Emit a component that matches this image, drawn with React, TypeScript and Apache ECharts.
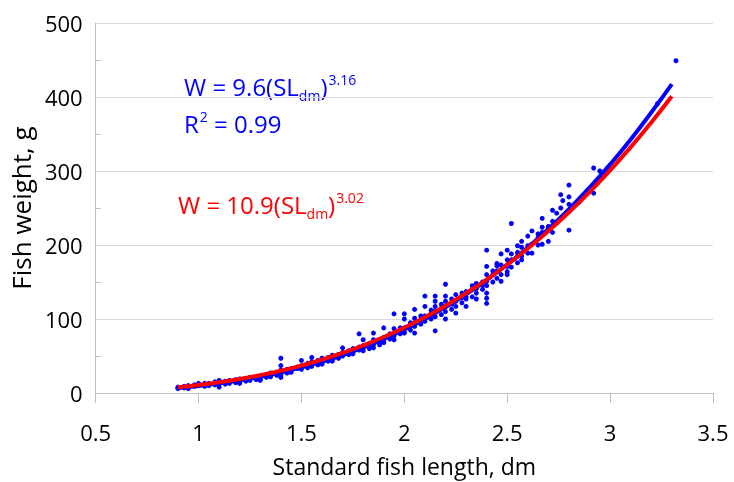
import React, { useEffect, useRef } from "react";
import * as echarts from "echarts";

// Scatter data: standard length columns (dm) and fish weights (g)
const lengthColumns = [
  0.9, 0.93, 0.95, 0.98, 1.0, 1.03, 1.05, 1.08, 1.1, 1.13, 1.15, 1.18, 1.2, 1.23, 1.25, 1.28,
  1.3, 1.33, 1.35, 1.38, 1.4, 1.43, 1.45, 1.48, 1.5, 1.53, 1.55, 1.58, 1.6, 1.63, 1.65, 1.68,
  1.7, 1.73, 1.75, 1.78, 1.8, 1.83, 1.85, 1.88, 1.9, 1.93, 1.95, 1.98, 2.0, 2.03, 2.05, 2.08,
  2.1, 2.13, 2.15, 2.18, 2.2, 2.23, 2.25, 2.28, 2.3, 2.33, 2.35, 2.38, 2.4, 2.43, 2.45, 2.47,
  2.5, 2.52, 2.55, 2.57, 2.6, 2.62, 2.65, 2.67, 2.7, 2.72, 2.74, 2.76, 2.77, 2.8, 2.85, 2.92,
  2.95, 3.23, 3.32,
];
const weightColumns = [
  [6, 8, 7], [7, 9], [8, 10, 6], [9, 11], [10, 12, 13], [11, 9, 13], [12, 13, 10], [13, 11, 15],
  [14, 17, 12, 8], [14, 16, 12], [15, 17, 13], [16, 14, 18], [17, 19, 15, 13], [18, 16], [19, 17, 21], [20, 18],
  [21, 23, 19, 17], [23, 21, 25], [24, 27, 22], [26, 24], [28, 31, 37, 47, 21, 25], [29, 32, 27], [31, 28, 33], [33, 35],
  [35, 37, 44, 32], [37, 40, 34], [38, 42, 48, 36], [40, 44, 38], [41, 47, 44, 39], [43, 46, 48], [45, 51, 48, 43], [49, 52, 47],
  [52, 55, 61, 50], [54, 57, 52], [56, 60, 53, 58], [58, 62, 80], [60, 64, 72, 57], [63, 67, 60], [65, 68, 81, 61, 72], [68, 71, 65],
  [70, 75, 88, 68], [73, 77, 80], [77, 87, 72, 107, 80], [80, 84, 88], [82, 88, 100, 107, 81], [85, 92, 95], [90, 95, 101, 113, 81], [93, 98, 104],
  [97, 104, 117, 131, 100], [100, 108, 112], [103, 111, 117, 124, 131, 84], [106, 115, 120], [110, 117, 124, 131, 147, 100], [113, 120, 127], [117, 124, 133, 108], [122, 129, 135],
  [127, 137, 117, 130], [130, 140, 145], [135, 141, 148, 127], [140, 150, 145], [145, 151, 160, 171, 193, 128, 121, 135], [150, 160, 165], [155, 165, 172, 175], [151, 160, 173, 188],
  [164, 171, 180, 193, 160], [170, 180, 229, 188], [176, 190, 199, 185], [180, 185, 197, 205], [189, 199, 212], [189, 201, 219], [200, 210, 215], [201, 217, 224, 236],
  [205, 220, 225], [217, 232, 247], [243, 230], [268, 250], [260], [220, 255, 265, 281, 245], [258], [304, 270],
  [300, 288], [391], [449],
];

// Fitted curves
const curveLength = [0.9, 1.0, 1.1, 1.2, 1.3, 1.4, 1.5, 1.6, 1.7, 1.8, 1.9, 2.0, 2.1, 2.2, 2.3, 2.4, 2.5, 2.6, 2.7, 2.8, 2.9, 3.0, 3.1, 3.2, 3.3];
const blueFitWeight = [6.9, 9.6, 13.0, 17.1, 22.0, 27.8, 34.6, 42.4, 51.3, 61.5, 73.0, 85.8, 100.1, 116.0, 133.4, 152.6, 173.7, 196.6, 221.6, 248.4, 277.6, 309.0, 342.7, 379.1, 417.5];
const redFitWeight = [7.9, 10.9, 14.5, 18.9, 24.1, 30.1, 37.1, 45.1, 54.1, 64.3, 75.7, 88.4, 102.4, 117.9, 134.9, 153.3, 173.4, 195.2, 218.8, 244.3, 271.5, 300.9, 332.2, 365.7, 401.1];

const FONT = "Open Sans";

export default function App() {
  const ref = useRef<HTMLDivElement>(null);
  useEffect(() => {
    const chart = echarts.init(ref.current!, null, { renderer: "svg" });
    const scatterData = lengthColumns.flatMap((x, i) => weightColumns[i].map((w) => [x, w]));
    const blueLine = curveLength.map((x, i) => [x, blueFitWeight[i]]);
    const redLine = curveLength.map((x, i) => [x, redFitWeight[i]]);
    const eqRich = (color: string) => ({
      m: { fontFamily: FONT, fontSize: 24, lineHeight: 34, fill: color, verticalAlign: "middle" },
      sup: { fontFamily: FONT, fontSize: 14, lineHeight: 14, fill: color, verticalAlign: "top", padding: [3, 0, 0, 1] },
      sub: { fontFamily: FONT, fontSize: 14, lineHeight: 14, fill: color, verticalAlign: "bottom", padding: [0, 0, 1, 0] },
    });
    chart.setOption({
      animation: false,
      textStyle: { fontFamily: FONT },
      grid: { left: 94, right: 21, top: 23, bottom: 84, containLabel: false },
      xAxis: {
        type: "value",
        min: 0.5,
        max: 3.5,
        interval: 0.5,
        name: "Standard fish length, dm",
        nameLocation: "middle",
        nameGap: 61,
        nameTextStyle: { fontSize: 23, color: "#000", fontFamily: FONT },
        axisLine: { show: true, lineStyle: { color: "#bfbfbf", width: 1 } },
        axisTick: { show: true, length: 10, lineStyle: { color: "#bfbfbf" } },
        axisLabel: { fontSize: 22, color: "#000", margin: 28, fontFamily: FONT },
        splitLine: { show: false },
      },
      yAxis: {
        type: "value",
        min: 0,
        max: 500,
        interval: 100,
        name: "Fish weight, g",
        nameLocation: "middle",
        nameGap: 55,
        nameTextStyle: { fontSize: 26, color: "#000", fontFamily: FONT },
        axisLine: { show: true, lineStyle: { color: "#bfbfbf", width: 1 } },
        axisTick: { show: false, inside: true },
        minorTick: { show: true, splitNumber: 2, length: 5, lineStyle: { color: "#bfbfbf" } },
        axisLabel: { fontSize: 22, color: "#000", margin: 13, fontFamily: FONT },
        splitLine: { show: true, lineStyle: { color: "#d9d9d9", width: 1 } },
        minorSplitLine: { show: false },
      },
      series: [
        {
          type: "scatter",
          data: scatterData,
          symbol: "circle",
          symbolSize: 5,
          itemStyle: { color: "#0000ff", opacity: 1 },
          z: 2,
        },
        {
          type: "line",
          data: blueLine,
          smooth: true,
          showSymbol: false,
          lineStyle: { color: "#0000ff", width: 4 },
          z: 3,
        },
        {
          type: "line",
          data: redLine,
          smooth: true,
          showSymbol: false,
          lineStyle: { color: "#ff0000", width: 4 },
          z: 4,
        },
      ],
      graphic: [
        {
          type: "text",
          left: 184,
          top: 69,
          style: { text: "{m|W = 9.6(SL}{sub|dm}{m|)}{sup|3.16}", rich: eqRich("#0000ff") },
        },
        {
          type: "text",
          left: 184,
          top: 106,
          style: { text: "{m|R}{sup|2}{m| = 0.99}", rich: eqRich("#0000ff") },
        },
        {
          type: "text",
          left: 178,
          top: 187,
          style: { text: "{m|W = 10.9(SL}{sub|dm}{m|)}{sup|3.02}", rich: eqRich("#ff0000") },
        },
      ],
    });
    return () => chart.dispose();
  }, []);
  return <div ref={ref} style={{ position: "fixed", left: 0, top: 0, width: 734, height: 482 }} />;
}
